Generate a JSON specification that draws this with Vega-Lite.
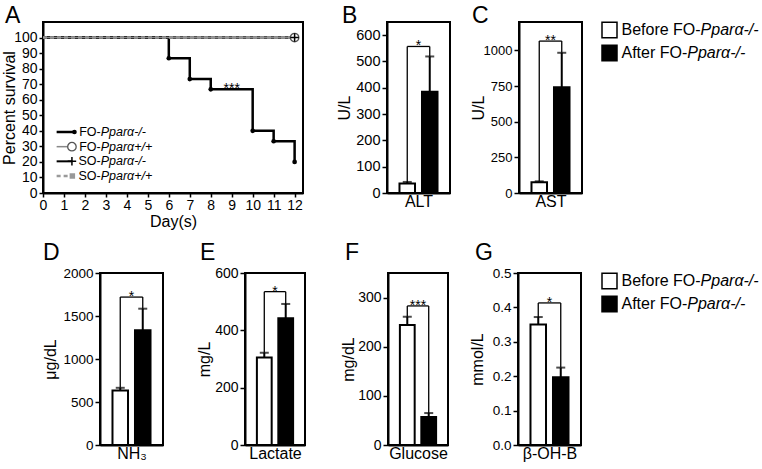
{
"$schema": "https://vega.github.io/schema/vega-lite/v6.json",
"padding": {"left": 0, "top": 3, "right": 0, "bottom": 0},
"bounds": "flush",
"spacing": 251,
"datasets": {
 "survival": [
  {"series":"FO-/-","day":0,"pct":100},{"series":"FO-/-","day":6,"pct":86.7},{"series":"FO-/-","day":7,"pct":73.3},{"series":"FO-/-","day":8,"pct":66.7},{"series":"FO-/-","day":10,"pct":40},{"series":"FO-/-","day":11,"pct":33.3},{"series":"FO-/-","day":12,"pct":20},
  {"series":"FO+/+","day":0,"pct":100},{"series":"FO+/+","day":12,"pct":100},
  {"series":"SO-/-","day":0,"pct":100},{"series":"SO-/-","day":12,"pct":100},
  {"series":"SO+/+","day":0,"pct":100},{"series":"SO+/+","day":12,"pct":100}
 ],
 "annotA": [{"day":9,"pct":66.7,"label":"***"}],
 "legendA": [
  {"series":"FO-/-","pre":"FO-","ital":"Pparα-/-"},
  {"series":"FO+/+","pre":"FO-","ital":"Pparα+/+"},
  {"series":"SO-/-","pre":"SO-","ital":"Pparα-/-"},
  {"series":"SO+/+","pre":"SO-","ital":"Pparα+/+"}
 ],
 "bars": [
  {"panel":"B","group":"Before","mean":36,"upper":42,"top":557,"sig":"*"},
  {"panel":"B","group":"After","mean":385,"upper":519,"top":557,"sig":"*"},
  {"panel":"C","group":"Before","mean":75,"upper":82,"top":1066,"sig":"**"},
  {"panel":"C","group":"After","mean":742,"upper":984,"top":1066,"sig":"**"},
  {"panel":"D","group":"Before","mean":635,"upper":665,"top":1720,"sig":"*"},
  {"panel":"D","group":"After","mean":1335,"upper":1585,"top":1720,"sig":"*"},
  {"panel":"E","group":"Before","mean":305,"upper":322,"top":535,"sig":"*"},
  {"panel":"E","group":"After","mean":442,"upper":492,"top":535,"sig":"*"},
  {"panel":"F","group":"Before","mean":244,"upper":261,"top":283,"sig":"***"},
  {"panel":"F","group":"After","mean":57,"upper":65,"top":283,"sig":"***"},
  {"panel":"G","group":"Before","mean":0.35,"upper":0.372,"top":0.413,"sig":"*"},
  {"panel":"G","group":"After","mean":0.197,"upper":0.225,"top":0.413,"sig":"*"}
 ],
 "legendBars": [
  {"group":"Before","pre":"Before FO-","ital":"Pparα-/-"},
  {"group":"After","pre":"After FO-","ital":"Pparα-/-"}
 ]
},
"vconcat": [
 {"bounds":"flush","spacing":0,"hconcat":[
  {"width":260,"height":171,
   "view":{"stroke":"black","strokeWidth":2},
   "title":{"text":"A","dx":-38,"offset":-5.5},
   "resolve":{"scale":{"x":"independent","y":"independent"},"axis":{"x":"independent","y":"independent"}},
   "layer":[
    {"data":{"name":"survival"},
     "encoding":{
      "x":{"field":"day","type":"quantitative","scale":{"domain":[0,12.4],"nice":false,"zero":false},"axis":{"title":"Day(s)","values":[0,1,2,3,4,5,6,7,8,9,10,11,12],"labelFontSize":14,"tickSize":4,"labelPadding":1,"titlePadding":1,"labelFlush":false,"labelOverlap":false}},
      "y":{"field":"pct","type":"quantitative","scale":{"domain":[0,110],"nice":false},"axis":{"title":"Percent survival","values":[0,10,20,30,40,50,60,70,80,90,100],"labelFontSize":14,"tickSize":4,"titlePadding":-4}}
     },
     "layer":[
      {"transform":[{"filter":"datum.series==='SO-/-'"}],"mark":{"type":"line","color":"black","strokeWidth":2.5}},
      {"transform":[{"filter":"datum.series==='FO-/-'"}],"mark":{"type":"line","interpolate":"step-after","color":"black","strokeWidth":2.5}},
      {"transform":[{"filter":"datum.series==='FO+/+'"}],"mark":{"type":"line","color":"#888888","strokeWidth":1.5}},
      {"transform":[{"filter":"datum.series==='SO+/+'"}],"mark":{"type":"line","color":"#9a9a9a","strokeWidth":2.5,"strokeDash":[4,3]}},
      {"transform":[{"filter":"datum.series==='FO-/-' && datum.day>0"}],"mark":{"type":"point","filled":true,"color":"black","size":22,"opacity":1}},
      {"transform":[{"filter":"datum.series==='SO+/+' && datum.day==12"}],"mark":{"type":"point","shape":"square","filled":true,"color":"#999999","size":30,"opacity":1}},
      {"transform":[{"filter":"datum.series==='FO+/+' && datum.day==12"}],"mark":{"type":"point","shape":"circle","filled":true,"fill":"white","stroke":"#555555","strokeWidth":1.3,"size":72,"opacity":1}},
      {"transform":[{"filter":"datum.series==='SO-/-' && datum.day==12"}],"mark":{"type":"point","shape":"M-1,0H1M0,-1V1","filled":false,"color":"black","strokeWidth":1.5,"size":72,"opacity":1}},
      {"data":{"name":"annotA"},"mark":{"type":"text","fontSize":14,"dy":4,"baseline":"alphabetic","color":"black"},"encoding":{"text":{"field":"label"}}}
     ]
    },
    {"data":{"name":"legendA"},
     "encoding":{"y":{"field":"series","type":"nominal","scale":{"type":"point","domain":["FO-/-","FO+/+","SO-/-","SO+/+"],"range":[110,154],"padding":0},"axis":null}},
     "layer":[
      {"transform":[{"filter":"datum.series==='FO-/-'"}],"mark":{"type":"rule","color":"black","strokeWidth":2.5},"encoding":{"x":{"datum":0.65,"scale":{"domain":[0,12.4],"nice":false,"zero":false},"axis":null},"x2":{"datum":1.5}}},
      {"transform":[{"filter":"datum.series==='SO-/-'"}],"mark":{"type":"rule","color":"black","strokeWidth":2},"encoding":{"x":{"datum":0.65,"axis":null},"x2":{"datum":1.4}}},
      {"transform":[{"filter":"datum.series==='FO+/+'"}],"mark":{"type":"rule","color":"#888888","strokeWidth":1.5},"encoding":{"x":{"datum":0.65,"axis":null},"x2":{"datum":1.4}}},
      {"transform":[{"filter":"datum.series==='SO+/+'"}],"mark":{"type":"rule","color":"#9a9a9a","strokeWidth":2.5,"strokeDash":[4,3]},"encoding":{"x":{"datum":0.65,"axis":null},"x2":{"datum":1.4}}},
      {"transform":[{"filter":"datum.series==='FO-/-'"}],"mark":{"type":"point","filled":true,"color":"black","size":22,"opacity":1},"encoding":{"x":{"datum":1.5,"axis":null}}},
      {"transform":[{"filter":"datum.series==='FO+/+'"}],"mark":{"type":"point","filled":true,"fill":"white","stroke":"#555555","strokeWidth":1.3,"size":72,"opacity":1},"encoding":{"x":{"datum":1.38,"axis":null}}},
      {"transform":[{"filter":"datum.series==='SO-/-'"}],"mark":{"type":"point","shape":"M-1,0H1M0,-1V1","filled":false,"color":"black","strokeWidth":1.5,"size":72,"opacity":1},"encoding":{"x":{"datum":1.38,"axis":null}}},
      {"transform":[{"filter":"datum.series==='SO+/+'"}],"mark":{"type":"point","shape":"square","filled":true,"color":"#999999","size":30,"opacity":1},"encoding":{"x":{"datum":1.4,"axis":null}}},
      {"mark":{"type":"text","align":"right","baseline":"middle","fontSize":12.5,"color":"black"},"encoding":{"x":{"datum":2.75,"axis":null},"text":{"field":"pre"}}},
      {"mark":{"type":"text","align":"left","baseline":"middle","fontSize":12.5,"fontStyle":"italic","color":"black"},"encoding":{"x":{"datum":2.75,"axis":null},"text":{"field":"ital"}}}
     ]
    }
   ]
  },
  {"width":84,"height":10,"data":{"values":[]},"mark":"point"},
  {"width":63,"height":171,
   "view":{"stroke":"black","strokeWidth":2},
   "title":{"text":"B","dx":-45,"offset":-5.5},
   "data":{"name":"bars"},
   "transform":[{"filter":"datum.panel==='B'"}],
   "encoding":{
    "x":{"field":"group","type":"nominal","scale":{"domain":["Before","After"],"paddingInner":0.31,"paddingOuter":0.555},"axis":{"title":"ALT","labels":false,"ticks":false,"titlePadding":0}},
    "y":{"field":"mean","type":"quantitative","scale":{"domain":[0,650],"nice":false},"axis":{"title":"U/L","values":[0,100,200,300,400,500,600],"labelFontSize":14.5,"titlePadding":3}}
   },
   "layer":[
    {"mark":{"type":"bar","stroke":"black","strokeWidth":2},"encoding":{"fill":{"field":"group","type":"nominal","scale":{"domain":["Before","After"],"range":["white","black"]},"legend":null}}},
    {"mark":{"type":"rule","color":"black","strokeWidth":2},"encoding":{"y2":{"field":"upper"}}},
    {"mark":{"type":"tick","color":"black","thickness":2,"size":9,"orient":"horizontal"},"encoding":{"y":{"field":"upper","type":"quantitative"}}},
    {"mark":{"type":"rule","color":"black","strokeWidth":1.3},"encoding":{"y":{"field":"upper","type":"quantitative"},"y2":{"field":"top"}}},
    {"mark":{"type":"line","color":"black","strokeWidth":1.3},"encoding":{"y":{"field":"top","type":"quantitative"}}},
    {"transform":[{"filter":"datum.group==='Before'"}],"mark":{"type":"text","dx":11.25,"dy":4,"fontSize":14,"baseline":"alphabetic","color":"black"},"encoding":{"y":{"field":"top","type":"quantitative"},"text":{"field":"sig"}}}
   ]
  },
  {"width":69,"height":10,"data":{"values":[]},"mark":"point"},
  {"width":63,"height":171,
   "view":{"stroke":"black","strokeWidth":2},
   "title":{"text":"C","dx":-47,"offset":-5.5},
   "data":{"name":"bars"},
   "transform":[{"filter":"datum.panel==='C'"}],
   "encoding":{
    "x":{"field":"group","type":"nominal","scale":{"domain":["Before","After"],"paddingInner":0.31,"paddingOuter":0.555},"axis":{"title":"AST","labels":false,"ticks":false,"titlePadding":0}},
    "y":{"field":"mean","type":"quantitative","scale":{"domain":[0,1200],"nice":false},"axis":{"title":"U/L","values":[0,250,500,750,1000],"format":"d","labelFontSize":13,"titlePadding":-3}}
   },
   "layer":[
    {"mark":{"type":"bar","stroke":"black","strokeWidth":2},"encoding":{"fill":{"field":"group","type":"nominal","scale":{"domain":["Before","After"],"range":["white","black"]},"legend":null}}},
    {"mark":{"type":"rule","color":"black","strokeWidth":2},"encoding":{"y2":{"field":"upper"}}},
    {"mark":{"type":"tick","color":"black","thickness":2,"size":9,"orient":"horizontal"},"encoding":{"y":{"field":"upper","type":"quantitative"}}},
    {"mark":{"type":"rule","color":"black","strokeWidth":1.3},"encoding":{"y":{"field":"upper","type":"quantitative"},"y2":{"field":"top"}}},
    {"mark":{"type":"line","color":"black","strokeWidth":1.3},"encoding":{"y":{"field":"top","type":"quantitative"}}},
    {"transform":[{"filter":"datum.group==='Before'"}],"mark":{"type":"text","dx":11.25,"dy":4,"fontSize":14,"baseline":"alphabetic","color":"black"},"encoding":{"y":{"field":"top","type":"quantitative"},"text":{"field":"sig"}}}
   ]
  },
  {"width":20,"height":10,"data":{"values":[]},"mark":"point"},
  {"width":15,"height":39,
   "data":{"name":"legendBars"},
   "encoding":{"y":{"field":"group","type":"nominal","scale":{"domain":["Before","After"],"paddingInner":0.326,"paddingOuter":0.01},"axis":null}},
   "layer":[
    {"mark":{"type":"bar","stroke":"black","strokeWidth":1.5},"encoding":{"fill":{"field":"group","type":"nominal","scale":{"domain":["Before","After"],"range":["white","black"]},"legend":null}}},
    {"mark":{"type":"text","align":"left","baseline":"middle","dx":12,"fontSize":16,"color":"black"},"encoding":{"text":{"field":"pre"}}},
    {"transform":[{"filter":"datum.group==='Before'"}],"mark":{"type":"text","align":"left","baseline":"middle","dx":91.1,"fontSize":16,"fontStyle":"italic","color":"black"},"encoding":{"text":{"field":"ital"}}},
    {"transform":[{"filter":"datum.group==='After'"}],"mark":{"type":"text","align":"left","baseline":"middle","dx":77.8,"fontSize":16,"fontStyle":"italic","color":"black"},"encoding":{"text":{"field":"ital"}}}
   ]
  }
 ]},
 {"bounds":"flush","spacing":0,"hconcat":[
  {"width":57,"height":10,"data":{"values":[]},"mark":"point"},
  {"width":63,"height":172,
   "view":{"stroke":"black","strokeWidth":2},
   "title":{"text":"D","dx":-57,"offset":1.5},
   "data":{"name":"bars"},
   "transform":[{"filter":"datum.panel==='D'"}],
   "encoding":{
    "x":{"field":"group","type":"nominal","scale":{"domain":["Before","After"],"paddingInner":0.31,"paddingOuter":0.555},"axis":{"title":"NH₃","labels":false,"ticks":false,"titlePadding":0}},
    "y":{"field":"mean","type":"quantitative","scale":{"domain":[0,2000],"nice":false},"axis":{"title":"μg/dL","values":[0,500,1000,1500,2000],"format":"d","labelFontSize":13.5,"titlePadding":4}}
   },
   "layer":[
    {"mark":{"type":"bar","stroke":"black","strokeWidth":2},"encoding":{"fill":{"field":"group","type":"nominal","scale":{"domain":["Before","After"],"range":["white","black"]},"legend":null}}},
    {"mark":{"type":"rule","color":"black","strokeWidth":2},"encoding":{"y2":{"field":"upper"}}},
    {"mark":{"type":"tick","color":"black","thickness":2,"size":9,"orient":"horizontal"},"encoding":{"y":{"field":"upper","type":"quantitative"}}},
    {"mark":{"type":"rule","color":"black","strokeWidth":1.3},"encoding":{"y":{"field":"upper","type":"quantitative"},"y2":{"field":"top"}}},
    {"mark":{"type":"line","color":"black","strokeWidth":1.3},"encoding":{"y":{"field":"top","type":"quantitative"}}},
    {"transform":[{"filter":"datum.group==='Before'"}],"mark":{"type":"text","dx":11.25,"dy":4,"fontSize":14,"baseline":"alphabetic","color":"black"},"encoding":{"y":{"field":"top","type":"quantitative"},"text":{"field":"sig"}}}
   ]
  },
  {"width":82,"height":10,"data":{"values":[]},"mark":"point"},
  {"width":60,"height":172,
   "view":{"stroke":"black","strokeWidth":2},
   "title":{"text":"E","dx":-45,"offset":1},
   "data":{"name":"bars"},
   "transform":[{"filter":"datum.panel==='E'"}],
   "encoding":{
    "x":{"field":"group","type":"nominal","scale":{"domain":["Before","After"],"paddingInner":0.31,"paddingOuter":0.555},"axis":{"title":"Lactate","labels":false,"ticks":false,"titlePadding":0}},
    "y":{"field":"mean","type":"quantitative","scale":{"domain":[0,600],"nice":false},"axis":{"title":"mg/L","values":[0,200,400,600],"labelFontSize":14,"titlePadding":2}}
   },
   "layer":[
    {"mark":{"type":"bar","stroke":"black","strokeWidth":2},"encoding":{"fill":{"field":"group","type":"nominal","scale":{"domain":["Before","After"],"range":["white","black"]},"legend":null}}},
    {"mark":{"type":"rule","color":"black","strokeWidth":2},"encoding":{"y2":{"field":"upper"}}},
    {"mark":{"type":"tick","color":"black","thickness":2,"size":9,"orient":"horizontal"},"encoding":{"y":{"field":"upper","type":"quantitative"}}},
    {"mark":{"type":"rule","color":"black","strokeWidth":1.3},"encoding":{"y":{"field":"upper","type":"quantitative"},"y2":{"field":"top"}}},
    {"mark":{"type":"line","color":"black","strokeWidth":1.3},"encoding":{"y":{"field":"top","type":"quantitative"}}},
    {"transform":[{"filter":"datum.group==='Before'"}],"mark":{"type":"text","dx":10.7,"dy":4,"fontSize":14,"baseline":"alphabetic","color":"black"},"encoding":{"y":{"field":"top","type":"quantitative"},"text":{"field":"sig"}}}
   ]
  },
  {"width":83,"height":10,"data":{"values":[]},"mark":"point"},
  {"width":60,"height":172,
   "view":{"stroke":"black","strokeWidth":2},
   "title":{"text":"F","dx":-43,"offset":8},
   "data":{"name":"bars"},
   "transform":[{"filter":"datum.panel==='F'"}],
   "encoding":{
    "x":{"field":"group","type":"nominal","scale":{"domain":["Before","After"],"paddingInner":0.31,"paddingOuter":0.555},"axis":{"title":"Glucose","labels":false,"ticks":false,"titlePadding":0}},
    "y":{"field":"mean","type":"quantitative","scale":{"domain":[0,350],"nice":false},"axis":{"title":"mg/dL","values":[0,100,200,300],"labelFontSize":14,"titlePadding":1}}
   },
   "layer":[
    {"mark":{"type":"bar","stroke":"black","strokeWidth":2},"encoding":{"fill":{"field":"group","type":"nominal","scale":{"domain":["Before","After"],"range":["white","black"]},"legend":null}}},
    {"mark":{"type":"rule","color":"black","strokeWidth":2},"encoding":{"y2":{"field":"upper"}}},
    {"mark":{"type":"tick","color":"black","thickness":2,"size":9,"orient":"horizontal"},"encoding":{"y":{"field":"upper","type":"quantitative"}}},
    {"mark":{"type":"rule","color":"black","strokeWidth":1.3},"encoding":{"y":{"field":"upper","type":"quantitative"},"y2":{"field":"top"}}},
    {"mark":{"type":"line","color":"black","strokeWidth":1.3},"encoding":{"y":{"field":"top","type":"quantitative"}}},
    {"transform":[{"filter":"datum.group==='Before'"}],"mark":{"type":"text","dx":10.7,"dy":4,"fontSize":14,"baseline":"alphabetic","color":"black"},"encoding":{"y":{"field":"top","type":"quantitative"},"text":{"field":"sig"}}}
   ]
  },
  {"width":70,"height":10,"data":{"values":[]},"mark":"point"},
  {"width":63,"height":172,
   "view":{"stroke":"black","strokeWidth":2},
   "title":{"text":"G","dx":-43,"offset":1.5},
   "data":{"name":"bars"},
   "transform":[{"filter":"datum.panel==='G'"}],
   "encoding":{
    "x":{"field":"group","type":"nominal","scale":{"domain":["Before","After"],"paddingInner":0.31,"paddingOuter":0.555},"axis":{"title":"β-OH-B","labels":false,"ticks":false,"titlePadding":0}},
    "y":{"field":"mean","type":"quantitative","scale":{"domain":[0,0.5],"nice":false},"axis":{"title":"mmol/L","values":[0,0.1,0.2,0.3,0.4,0.5],"format":".1f","labelFontSize":13.5,"titlePadding":7}}
   },
   "layer":[
    {"mark":{"type":"bar","stroke":"black","strokeWidth":2},"encoding":{"fill":{"field":"group","type":"nominal","scale":{"domain":["Before","After"],"range":["white","black"]},"legend":null}}},
    {"mark":{"type":"rule","color":"black","strokeWidth":2},"encoding":{"y2":{"field":"upper"}}},
    {"mark":{"type":"tick","color":"black","thickness":2,"size":9,"orient":"horizontal"},"encoding":{"y":{"field":"upper","type":"quantitative"}}},
    {"mark":{"type":"rule","color":"black","strokeWidth":1.3},"encoding":{"y":{"field":"upper","type":"quantitative"},"y2":{"field":"top"}}},
    {"mark":{"type":"line","color":"black","strokeWidth":1.3},"encoding":{"y":{"field":"top","type":"quantitative"}}},
    {"transform":[{"filter":"datum.group==='Before'"}],"mark":{"type":"text","dx":11.25,"dy":4,"fontSize":14,"baseline":"alphabetic","color":"black"},"encoding":{"y":{"field":"top","type":"quantitative"},"text":{"field":"sig"}}}
   ]
  },
  {"width":21,"height":10,"data":{"values":[]},"mark":"point"},
  {"width":15,"height":39,
   "data":{"name":"legendBars"},
   "encoding":{"y":{"field":"group","type":"nominal","scale":{"domain":["Before","After"],"paddingInner":0.326,"paddingOuter":0.01},"axis":null}},
   "layer":[
    {"mark":{"type":"bar","stroke":"black","strokeWidth":1.5},"encoding":{"fill":{"field":"group","type":"nominal","scale":{"domain":["Before","After"],"range":["white","black"]},"legend":null}}},
    {"mark":{"type":"text","align":"left","baseline":"middle","dx":12,"fontSize":16,"color":"black"},"encoding":{"text":{"field":"pre"}}},
    {"transform":[{"filter":"datum.group==='Before'"}],"mark":{"type":"text","align":"left","baseline":"middle","dx":91.1,"fontSize":16,"fontStyle":"italic","color":"black"},"encoding":{"text":{"field":"ital"}}},
    {"transform":[{"filter":"datum.group==='After'"}],"mark":{"type":"text","align":"left","baseline":"middle","dx":77.8,"fontSize":16,"fontStyle":"italic","color":"black"},"encoding":{"text":{"field":"ital"}}}
   ]
  }
 ]}
],
"config": {
 "font": "Liberation Sans",
 "view": {"stroke": null},
 "axis": {"grid": false, "domainColor": "black", "domainWidth": 2, "tickColor": "black", "tickWidth": 1.5, "tickSize": 5, "labelColor": "black", "labelFontSize": 13, "labelPadding": 2, "labelFlush": false, "labelOverlap": false, "titleColor": "black", "titleFontSize": 16, "titleFontWeight": "normal"},
 "title": {"fontSize": 23, "fontWeight": "normal", "anchor": "start", "frame": "group", "color": "black", "baseline": "alphabetic"}
}
}
